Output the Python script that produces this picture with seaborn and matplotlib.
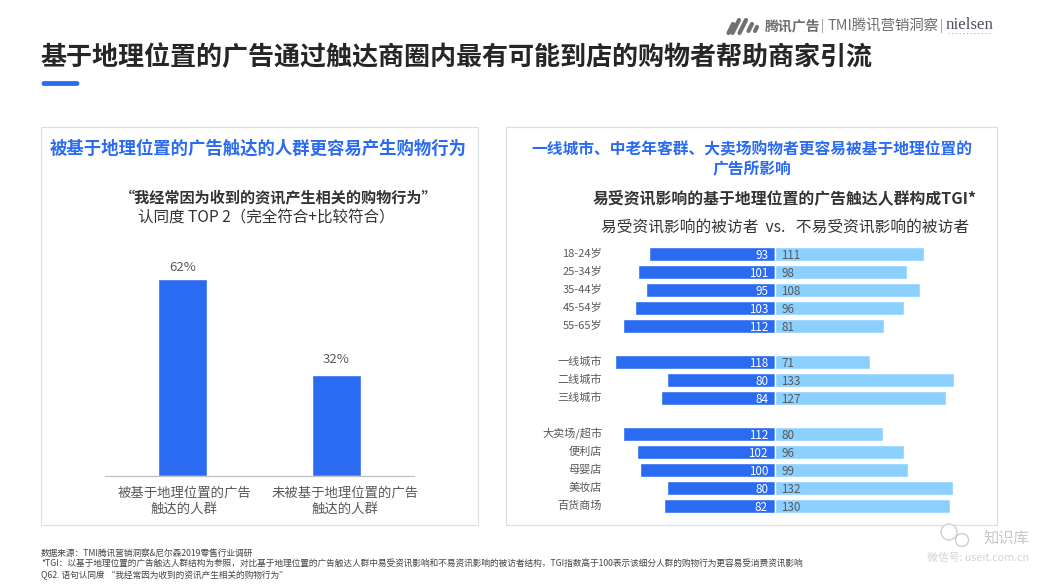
import matplotlib
matplotlib.use("Agg")
import matplotlib.pyplot as plt
from matplotlib.patches import Rectangle, FancyBboxPatch, Circle
from matplotlib.lines import Line2D
from matplotlib.transforms import ScaledTranslation
import pandas as pd
import seaborn as sns

sns.set_theme(style="white")
plt.rcParams['font.family'] = ['Noto Sans CJK SC', 'DejaVu Sans']

# ---- data ----
left_categories = ["被基于地理位置的广告\n触达的人群", "未被基于地理位置的广告\n触达的人群"]
left_values = [62, 32]

right_categories = ["18-24岁", "25-34岁", "35-44岁", "45-54岁", "55-65岁",
                    "一线城市", "二线城市", "三线城市",
                    "大卖场/超市", "便利店", "母婴店", "美妆店", "百货商场"]
right_rows = [0, 1, 2, 3, 4, 6, 7, 8, 10, 11, 12, 13, 14]
susceptible = [93, 101, 95, 103, 112, 118, 80, 84, 112, 102, 100, 80, 82]
not_susceptible = [111, 98, 108, 96, 81, 71, 133, 127, 80, 96, 99, 132, 130]

BLUE = "#2A6BF2"
LIGHT = "#8CD0FF"
DARK = "#262626"
GRAY = "#595959"
EDGE = "#DDE1E6"
W, H = 1040, 585

fig = plt.figure(figsize=(W / 100, H / 100), dpi=100, facecolor="white")


def px_axes(x0, y0, x1, y1, **kw):
    return fig.add_axes([x0 / W, 1 - y1 / H, (x1 - x0) / W, (y1 - y0) / H], **kw)


# overlay in pixel coordinates for page furniture
bg = px_axes(0, 0, W, H, zorder=0)
bg.set_xlim(0, W)
bg.set_ylim(H, 0)
bg.axis("off")

bg.add_patch(Rectangle((41, 127), 437, 398, fc="white", ec=EDGE, lw=0.9))
bg.add_patch(Rectangle((506, 127), 491, 398, fc="white", ec=EDGE, lw=0.9))
bg.add_patch(FancyBboxPatch((43, 82.5), 35, 2, boxstyle="round,pad=0,rounding_size=1",
                            fc=BLUE, ec=BLUE, lw=2))

bg.text(40, 58, "基于地理位置的广告通过触达商圈内最有可能到店的购物者帮助商家引流",
        fontsize=18.75, fontweight="bold", color=DARK, ha="left", va="center")

bg.text(258, 149, "被基于地理位置的广告触达的人群更容易产生购物行为",
        fontsize=12.5, fontweight="bold", color=BLUE, ha="center", va="center")
bg.text(751.5, 149, "一线城市、中老年客群、大卖场购物者更容易被基于地理位置的",
        fontsize=11.35, fontweight="bold", color=BLUE, ha="center", va="center")
bg.text(751.5, 169, "广告所影响",
        fontsize=11.35, fontweight="bold", color=BLUE, ha="center", va="center")

bg.text(278.5, 198, "“我经常因为收到的资讯产生相关的购物行为”",
        fontsize=10.9, fontweight="bold", color="#333333", ha="center", va="center")
bg.text(266.5, 218, "认同度 TOP 2（完全符合+比较符合）",
        fontsize=11.2, color="#333333", ha="center", va="center")
bg.text(784.5, 198, "易受资讯影响的基于地理位置的广告触达人群构成TGI*",
        fontsize=11.4, fontweight="bold", color="#333333", ha="center", va="center")
bg.text(785, 228, "易受资讯影响的被访者  vs.   不易受资讯影响的被访者",
        fontsize=11.3, color="#333333", ha="center", va="center")

# footnotes
notes = [
    (553, "数据来源：TMI腾讯营销洞察&尼尔森2019零售行业调研"),
    (563.5, "*TGI：以基于地理位置的广告触达人群结构为参照，对比基于地理位置的广告触达人群中易受资讯影响和不易资讯影响的被访者结构，TGI指数高于100表示该细分人群的购物行为更容易受消费资讯影响"),
    (575, "Q62. 语句认同度 “我经常因为收到的资讯产生相关的购物行为”"),
]
for y, t in notes:
    bg.text(41, y, t, fontsize=6.25, color="#444444", ha="left", va="center")

# header logo
for x, top, bot in [(733, 24, 33), (739, 20, 33), (746, 20, 33), (752, 24, 31), (757, 27, 31)]:
    bg.add_line(Line2D([x, x - (bot - top) * 0.5], [top, bot], color="#707070",
                       lw=3, solid_capstyle="round"))
bg.text(765, 26, "腾讯广告", fontsize=10, fontweight="bold", color="#6E6E6E", ha="left", va="center")
bg.text(822, 26, "|", fontsize=9, color="#8A8A8A", ha="center", va="center")
bg.text(827, 26, "TMI腾讯营销洞察", fontsize=10.4, style="italic", color="#6E6E6E", ha="left", va="center")
bg.text(941, 26, "|", fontsize=9, color="#8A8A8A", ha="center", va="center")
bg.text(946, 25, "nielsen", fontsize=12.2, family="Liberation Serif", color="#4F4F5F", ha="left", va="center")
for i in range(12):
    bg.add_patch(Circle((949 + i * 3.7, 33.5), 0.5, fc="#8A8A8A", ec="none"))

# watermark
bg.add_patch(Circle((949, 532), 8, fc="white", ec="#CFCFCF", lw=1))
bg.add_patch(Circle((962, 540), 6.5, fc="white", ec="#CFCFCF", lw=1))
bg.text(1006, 538, "知识库", fontsize=11, color="#C8C8C8", ha="center", va="center")
bg.text(978, 558, "微信号: useit.com.cn", fontsize=7.8, color="#D2D2D2", ha="center", va="center")

# ---- left bar chart ----
left_df = pd.DataFrame({"group": left_categories, "value": left_values})
ax1 = px_axes(105.5, 254, 413.5, 476, zorder=2)
ax1.patch.set_alpha(0)
sns.barplot(data=left_df, x="group", y="value", color=BLUE, saturation=1, width=0.318, ax=ax1)
ax1.set_xlim(-0.5, 1.5)
ax1.set_ylim(0, 70)
ax1.set_xlabel("")
ax1.set_ylabel("")
ax1.set_yticks([])
ax1.tick_params(axis="x", length=0, pad=7, labelsize=9.6, labelcolor=GRAY)
for s in ("left", "right", "top"):
    ax1.spines[s].set_visible(False)
ax1.spines["bottom"].set_color("#BFBFBF")
ax1.spines["bottom"].set_linewidth(0.9)
for lab, dx in zip(ax1.get_xticklabels(), (2, 8.5)):
    lab.set_transform(lab.get_transform() + ScaledTranslation(dx / 100, 0, fig.dpi_scale_trans))
for i, (v, pad) in enumerate(zip(left_values, (5, 9))):
    ax1.annotate(f"{v}%", (i, v), xytext=(0, pad), textcoords="offset pixels",
                 ha="center", va="bottom", fontsize=9.5, color=GRAY)

# ---- right diverging bars ----
right_df = pd.DataFrame({"row": right_rows,
                         "left": [-v for v in susceptible],
                         "right": not_susceptible})
SCALE = 1.35  # pixels per index unit
CENTER = 774.5
ax2 = px_axes(605, 245, 990, 515, zorder=2)
ax2.patch.set_alpha(0)
sns.barplot(data=right_df, x="left", y="row", orient="y", native_scale=True,
            color=BLUE, saturation=1, width=0.76, ax=ax2)
sns.barplot(data=right_df, x="right", y="row", orient="y", native_scale=True,
            color=LIGHT, saturation=1, width=0.76, ax=ax2)
ax2.set_xlim((605 - CENTER) / SCALE, (990 - CENTER) / SCALE)
ax2.set_ylim(14.5, -0.5)
ax2.set_xlabel("")
ax2.set_ylabel("")
ax2.set_xticks([])
ax2.set_yticks(right_rows, right_categories)
ax2.tick_params(axis="y", length=0, pad=2, labelsize=8, labelcolor=GRAY)
for lab in ax2.get_yticklabels():
    lab.set_transform(lab.get_transform() + ScaledTranslation(0, 1.5 / 100, fig.dpi_scale_trans))
for s in ax2.spines.values():
    s.set_visible(False)
for r, a, b in zip(right_rows, susceptible, not_susceptible):
    ax2.annotate(str(a), (0, r), xytext=(-6.5, -1.5), textcoords="offset pixels",
                 ha="right", va="center", fontsize=8.4, color="white")
    ax2.annotate(str(b), (0, r), xytext=(6.5, -1.5), textcoords="offset pixels",
                 ha="left", va="center", fontsize=8.4, color=GRAY)

fig.savefig("out.png", dpi=100, facecolor="white")
